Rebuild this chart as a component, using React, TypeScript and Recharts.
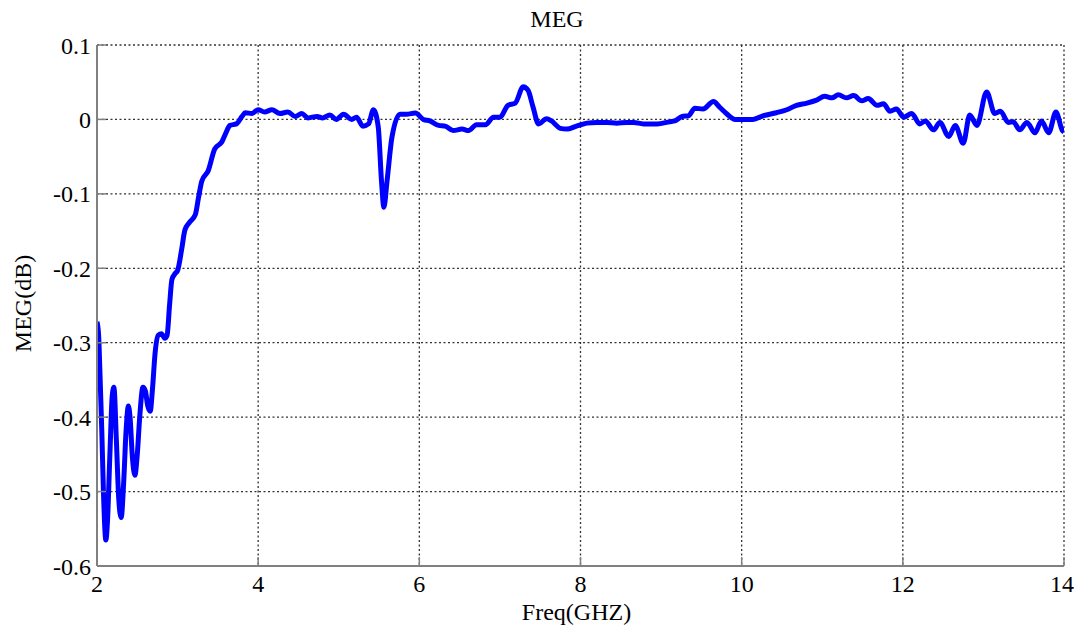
import React from 'react';
import { LineChart, Line, XAxis, YAxis, CartesianGrid, Label } from 'recharts';

// Frequency sweep (GHz) and the matching MEG values (dB)
const freqGHz: number[] = [
  2.0, 2.02, 2.035, 2.06, 2.08, 2.11, 2.13, 2.16, 2.19, 2.21, 2.24, 2.27, 2.3, 2.33, 2.36, 2.39,
  2.41, 2.44, 2.47, 2.5, 2.53, 2.57, 2.6, 2.63, 2.66, 2.69, 2.72, 2.76, 2.8, 2.84, 2.87, 2.9,
  2.93, 2.97, 3.0, 3.05, 3.09, 3.15, 3.22, 3.26, 3.3, 3.38, 3.46, 3.55, 3.6, 3.65, 3.73, 3.8,
  3.84, 3.92, 4.0, 4.08, 4.17, 4.27, 4.37, 4.46, 4.54, 4.62, 4.73, 4.8, 4.89, 4.97, 5.06, 5.16,
  5.22, 5.3, 5.37, 5.43, 5.49, 5.53, 5.56, 5.6, 5.66, 5.76, 5.84, 5.95, 6.05, 6.13, 6.24, 6.32,
  6.42, 6.53, 6.61, 6.71, 6.82, 6.92, 7.0, 7.1, 7.19, 7.29, 7.35, 7.41, 7.48, 7.58, 7.64, 7.75,
  7.83, 7.95, 8.08, 8.2, 8.33, 8.45, 8.57, 8.66, 8.78, 8.95, 9.11, 9.17, 9.26, 9.34, 9.42, 9.52,
  9.65, 9.73, 9.81, 9.92, 10.02, 10.14, 10.27, 10.43, 10.56, 10.68, 10.81, 10.93, 11.03, 11.12, 11.2, 11.3,
  11.39, 11.49, 11.57, 11.68, 11.76, 11.84, 11.92, 12.01, 12.11, 12.21, 12.28, 12.38, 12.46, 12.57, 12.65, 12.75,
  12.83, 12.92, 13.04, 13.14, 13.21, 13.31, 13.37, 13.45, 13.54, 13.64, 13.72, 13.81, 13.9, 13.98, 14.0,
];

const megDb: number[] = [
  -0.272, -0.29, -0.335, -0.42, -0.5, -0.565, -0.54, -0.45, -0.37, -0.36, -0.43, -0.51, -0.535, -0.49, -0.42, -0.385,
  -0.4, -0.455, -0.478, -0.45, -0.4, -0.36, -0.365, -0.385, -0.392, -0.36, -0.315, -0.29, -0.288, -0.294, -0.29, -0.25,
  -0.215, -0.207, -0.203, -0.175, -0.149, -0.138, -0.128, -0.105, -0.083, -0.069, -0.04, -0.03, -0.018, -0.008, -0.006, 0.004,
  0.009, 0.008, 0.013, 0.01, 0.013, 0.008, 0.01, 0.004, 0.008, 0.002, 0.004, 0.002, 0.006, 0.0, 0.007, 0.0,
  0.003, -0.009, -0.006, 0.013, -0.01, -0.082, -0.118, -0.082, -0.024, 0.007, 0.007, 0.0085, 0.0, -0.002, -0.008, -0.009,
  -0.015, -0.013, -0.015, -0.007, -0.007, 0.003, 0.003, 0.019, 0.022, 0.044, 0.039, 0.017, -0.006, 0.001, -0.002, -0.012,
  -0.013, -0.009, -0.005, -0.004, -0.004, -0.005, -0.004, -0.004, -0.006, -0.006, -0.003, -0.002, 0.004, 0.005, 0.015, 0.014,
  0.024, 0.016, 0.008, 0.0, 0.0, 0.0, 0.005, 0.009, 0.013, 0.019, 0.022, 0.026, 0.031, 0.029, 0.033, 0.029,
  0.032, 0.025, 0.028, 0.019, 0.021, 0.011, 0.014, 0.003, 0.008, -0.006, -0.002, -0.014, -0.004, -0.023, -0.008, -0.032,
  0.006, -0.008, 0.037, 0.008, 0.011, -0.004, -0.003, -0.014, -0.004, -0.018, -0.002, -0.018, 0.01, -0.015, -0.017,
];

const xTicks: number[] = [2, 4, 6, 8, 10, 12, 14];
const yTicks: number[] = [0.1, 0, -0.1, -0.2, -0.3, -0.4, -0.5, -0.6];

const chartTitle = 'MEG';
const xAxisTitle = 'Freq(GHZ)';
const yAxisTitle = 'MEG(dB)';

const data = freqGHz.map((f, i) => ({ freq: f, meg: megDb[i] }));

const FONT = '"Liberation Serif", "Times New Roman", serif';
const tickStyle = { fill: '#000', fontSize: 24, fontFamily: FONT };
const axisStroke = { stroke: '#808080', strokeWidth: 2 };
const tickStroke = { stroke: '#808080', strokeWidth: 1.5 };

const XTitle = (props: any) => {
  const vb = props.viewBox;
  return (
    <text
      x={vb.x + vb.width / 2 - 4}
      y={vb.y + 54}
      textAnchor="middle"
      fontSize={24}
      fontFamily={FONT}
      fill="#000"
    >
      {xAxisTitle}
    </text>
  );
};

const YTitle = (props: any) => {
  const vb = props.viewBox;
  const cx = vb.x + 31;
  const cy = vb.y + vb.height / 2 - 2;
  return (
    <text
      x={cx}
      y={cy}
      transform={`rotate(-90 ${cx} ${cy})`}
      textAnchor="middle"
      fontSize={24}
      fontFamily={FONT}
      fill="#000"
    >
      {yAxisTitle}
    </text>
  );
};

export default function App() {
  return (
    <div style={{ position: 'absolute', left: 0, top: 0, width: 1074, height: 637, background: '#fff' }}>
      <svg width={1074} height={40} style={{ position: 'absolute', left: 0, top: 0 }}>
        <text x={557} y={27} textAnchor="middle" fontSize={24} fontFamily={FONT} fill="#000">
          {chartTitle}
        </text>
      </svg>
      <LineChart
        width={1074}
        height={637}
        data={data}
        margin={{ top: 45, right: 10, bottom: 0, left: 0 }}
        style={{ position: 'absolute', left: 0, top: 0 }}
      >
        <CartesianGrid stroke="#333" strokeWidth={1.3} strokeDasharray="2 2.5" />
        <XAxis
          dataKey="freq"
          type="number"
          domain={[2, 14]}
          ticks={xTicks}
          allowDataOverflow
          height={71}
          tick={tickStyle}
          tickSize={-9}
          tickMargin={18}
          axisLine={axisStroke}
          tickLine={tickStroke}
        >
          <Label content={XTitle} />
        </XAxis>
        <YAxis
          type="number"
          domain={[-0.6, 0.1]}
          ticks={yTicks}
          allowDataOverflow
          width={97}
          tick={tickStyle}
          tickSize={-9}
          tickMargin={15}
          axisLine={axisStroke}
          tickLine={tickStroke}
        >
          <Label content={YTitle} />
        </YAxis>
        <Line
          type="monotone"
          dataKey="meg"
          stroke="#0000ff"
          strokeWidth={5}
          dot={false}
          isAnimationActive={false}
        />
      </LineChart>
    </div>
  );
}
